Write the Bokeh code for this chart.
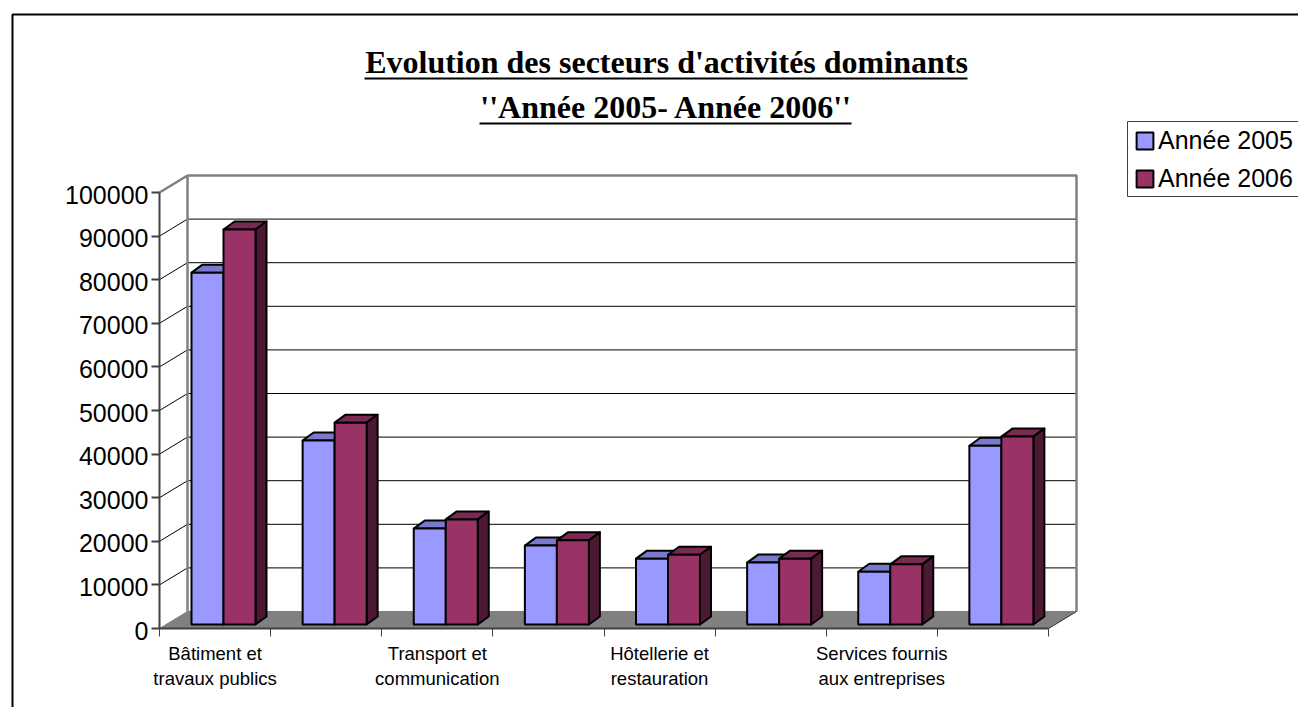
from bokeh.plotting import figure
from bokeh.models import (Range1d, FixedTicker, LinearAxis, BoxAnnotation, Label, Legend, LegendItem,
                          NumeralTickFormatter)
from bokeh.embed import file_html
from bokeh.resources import INLINE

categories = ["Bâtiment et\ntravaux publics", "", "Transport et\ncommunication", "",
              "Hôtellerie et\nrestauration", "", "Services fournis\naux entreprises", ""]
annee_2005 = [80700, 42200, 22000, 18100, 15100, 14200, 12100, 41000]
annee_2006 = [90600, 46300, 24100, 19300, 16000, 15100, 13800, 43100]
series_names = ["Année 2005", "Année 2006"]
y_ticks = list(range(0, 100001, 10000))
title_lines = ["Evolution des secteurs d'activités dominants", "''Année 2005- Année 2006''"]

W, H = 1298, 707
X0, Y0 = 159, 628                     # canvas px of the axes origin
px_x = 8 / 889.0                      # category units per px
px_y = 100000 / 436.0                 # value units per px
FONT = "Liberation Sans"

p = figure(width=W, height=H, output_backend="svg", toolbar_location=None,
           x_range=Range1d(-X0 * px_x, (W - X0) * px_x), y_range=Range1d(-(H - Y0) * px_y, Y0 * px_y),
           min_border=0, x_axis_type=None, y_axis_type=None, outline_line_color=None,
           background_fill_color="white", border_fill_color="white")
p.grid.visible = False

wall_dx, wall_dy = 28 * px_x, 17 * px_y
xmax = len(categories)

# floor
p.patch([0, wall_dx, xmax + wall_dx, xmax], [0, wall_dy, wall_dy, 0],
        fill_color="#808080", line_color="#808080", line_width=1)
# gridlines on back wall and side wall
grid_y = y_ticks[1:-1]
p.segment([wall_dx] * len(grid_y), [v + wall_dy for v in grid_y],
          [xmax + wall_dx] * len(grid_y), [v + wall_dy for v in grid_y],
          line_color="#000000", line_width=1)
p.segment([0] * len(grid_y), grid_y, [wall_dx] * len(grid_y), [v + wall_dy for v in grid_y],
          line_color="#000000", line_width=1)
# wall outline
top = y_ticks[-1]
p.line([0, wall_dx, wall_dx], [top, top + wall_dy, wall_dy], line_color="#808080", line_width=2.5)
p.line([wall_dx, xmax + wall_dx, xmax + wall_dx], [top + wall_dy, top + wall_dy, wall_dy],
       line_color="#808080", line_width=2.5)
p.line([xmax, xmax + wall_dx], [0, wall_dy], line_color="#404040", line_width=1)

# bars
bar_w = 32 * px_x
bar_off = 32 * px_x
dx, dy = 11 * px_x, 8 * px_y
base = 917
front = {}
for s, (vals, face, tp, side, name) in enumerate([
    (annee_2005, "#9999FF", "#7A7ACC", "#4C4C80", series_names[0]),
    (annee_2006, "#993366", "#7A2952", "#4C1933", series_names[1])]):
    x0 = [i + bar_off + s * bar_w for i in range(xmax)]
    x1 = [x + bar_w for x in x0]
    y1 = [base + v for v in vals]
    p.patches([[a, a + dx, b + dx, b] for a, b in zip(x0, x1)],
              [[v, v + dy, v + dy, v] for v in y1],
              fill_color=tp, line_color="black", line_width=2, line_join="round")
    p.patches([[b, b + dx, b + dx, b] for b in x1],
              [[base, base + dy, v + dy, v] for v in y1],
              fill_color=side, line_color="black", line_width=2, line_join="round")
    front[s] = p.quad(left=x0, right=x1, bottom=[base] * xmax, top=y1,
                      fill_color=face, line_color="black", line_width=2)

# axes
ya = LinearAxis(ticker=FixedTicker(ticks=y_ticks), bounds=(0, top), fixed_location=0,
                axis_line_color="#404040", axis_line_width=2,
                major_tick_line_color="#404040", major_tick_line_width=2,
                major_tick_in=0, major_tick_out=8, minor_tick_line_color=None,
                major_label_text_color=None, major_label_text_font_size="1px",
                major_label_overrides={v: "" for v in y_ticks})
p.add_layout(ya, "left")
# tick labels sit 2px lower than their ticks, as in the source chart
label_shift = 2 * px_y
p.extra_y_ranges = {"labels": Range1d(p.y_range.start + label_shift, p.y_range.end + label_shift)}
yl = LinearAxis(ticker=FixedTicker(ticks=y_ticks), y_range_name="labels", fixed_location=0,
                formatter=NumeralTickFormatter(format="0"),
                axis_line_color=None, major_tick_line_color=None, minor_tick_line_color=None,
                major_tick_in=0, major_tick_out=8,
                major_label_standoff=3, major_label_text_font=FONT,
                major_label_text_font_size="25px", major_label_text_color="black")
p.add_layout(yl, "left")
xa = LinearAxis(ticker=FixedTicker(ticks=list(range(xmax + 1))), bounds=(0, xmax), fixed_location=0,
                axis_line_color="#404040", axis_line_width=2,
                major_tick_line_color="#404040", major_tick_line_width=1,
                major_tick_in=0, major_tick_out=8, minor_tick_line_color=None,
                major_label_text_color=None, major_label_text_font_size="1px", major_label_standoff=0,
                major_label_overrides={i: "" for i in range(xmax + 1)})
p.add_layout(xa, "below")
label_ticks = [i + 0.5 for i, c in enumerate(categories) if c]
xl = LinearAxis(ticker=FixedTicker(ticks=label_ticks), fixed_location=-14 * px_y, axis_line_color=None,
                major_tick_line_color=None, minor_tick_line_color=None,
                major_tick_in=0, major_tick_out=0,
                major_label_overrides={t: categories[int(t)] for t in label_ticks},
                major_label_standoff=0, major_label_text_font=FONT,
                major_label_text_font_size="18.5px", major_label_text_color="black")
p.add_layout(xl, "below")

def box(l, r, t, b, **kw):
    p.add_layout(BoxAnnotation(left=l, right=r, top=t, bottom=b,
                               left_units="canvas", right_units="canvas", top_units="canvas", bottom_units="canvas",
                               level="overlay", **kw))

# chart frame
box(12, W + 30, 14, H + 30, fill_alpha=0, line_color="black", line_alpha=1, line_width=2)

# title
for txt, cy, ul in zip(title_lines, [61, 106], [(364, 967), (479, 851)]):
    p.add_layout(Label(x=666, y=H - cy, x_units="screen", y_units="screen", text=txt,
                       text_font="Liberation Serif", text_font_style="bold", text_font_size="32px",
                       text_align="center", text_baseline="alphabetic", text_color="black"))
    box(ul[0], ul[1], cy + 16, cy + 18, fill_color="black", fill_alpha=1, line_alpha=0, line_width=0)

# legend
box(1127, W + 30, 121, 196, fill_color="white", fill_alpha=1, line_color="#404040", line_alpha=1, line_width=1)
leg = Legend(items=[LegendItem(label=series_names[0], renderers=[front[0]]),
                    LegendItem(label=series_names[1], renderers=[front[1]])],
             location=(1134, H - 193), orientation="vertical", border_line_color=None,
             background_fill_alpha=0, level="overlay",
             label_text_font=FONT, label_text_font_size="25px", label_text_color="black",
             glyph_width=21, glyph_height=21, padding=4, margin=0, spacing=9, label_standoff=3)
p.add_layout(leg, "center")

open("out.html", "w").write(file_html(p, INLINE))
